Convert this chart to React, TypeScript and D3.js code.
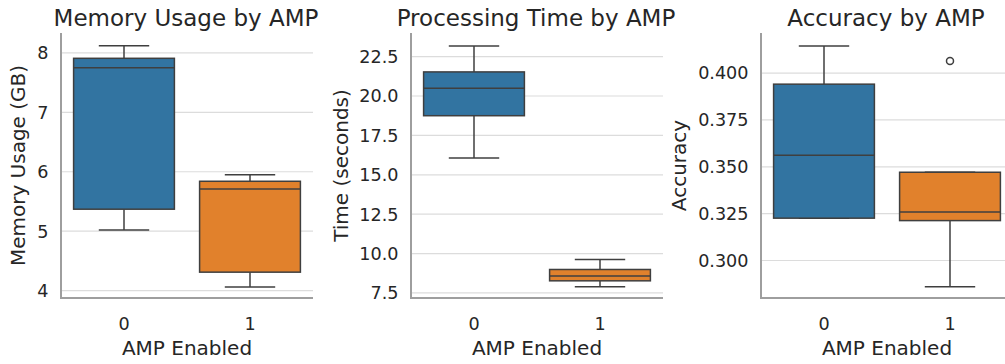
import React from "react";
import * as d3 from "d3";

// categories (AMP enabled flag)
const categories = ["0", "1"];

// box stats per group: [whiskerLow, q1, median, q3, whiskerHigh]
const memoryStats = [
  [5.02, 5.37, 7.75, 7.91, 8.12],
  [4.06, 4.31, 5.71, 5.84, 5.95],
];
const timeStats = [
  [16.07, 18.75, 20.5, 21.53, 23.18],
  [7.89, 8.27, 8.57, 8.99, 9.62],
];
const accuracyStats = [
  [0.3226, 0.3226, 0.3562, 0.3941, 0.4145],
  [0.286, 0.3213, 0.3259, 0.3471, 0.3471],
];
const accuracyOutliers = [[], [0.4065]];

const memoryTicks = [4, 5, 6, 7, 8];
const timeTicks = [7.5, 10, 12.5, 15, 17.5, 20, 22.5];
const accuracyTicks = [0.3, 0.325, 0.35, 0.375, 0.4];

const colors = ["#3274a1", "#e1812c"];
const lineColor = "#3f3f3f";
const textColor = "#262626";
const font = "DejaVu Sans, sans-serif";

const top = 33;
const bottom = 298;
const axisWidth = 252;

const panels = [
  {
    title: "Memory Usage by AMP",
    ylabel: "Memory Usage (GB)",
    left: 61,
    labelX: 24.5,
    domain: [3.875, 8.336],
    stats: memoryStats,
    outliers: [[], []],
    ticks: memoryTicks,
    fmt: (v: number) => d3.format("d")(v),
  },
  {
    title: "Processing Time by AMP",
    ylabel: "Time (seconds)",
    left: 411,
    labelX: 348,
    domain: [7.18, 24.0],
    stats: timeStats,
    outliers: [[], []],
    ticks: timeTicks,
    fmt: (v: number) => d3.format(".1f")(v),
  },
  {
    title: "Accuracy by AMP",
    ylabel: "Accuracy",
    left: 761,
    labelX: 686,
    domain: [0.28, 0.4214],
    stats: accuracyStats,
    outliers: accuracyOutliers,
    ticks: accuracyTicks,
    fmt: (v: number) => d3.format(".3f")(v),
  },
];

const Panel = ({ p }: { p: (typeof panels)[number] }) => {
  const x = d3
    .scaleLinear()
    .domain([-0.5, 1.5])
    .range([p.left, p.left + axisWidth]);
  const y = d3.scaleLinear().domain(p.domain).range([bottom, top]);
  const step = x(1) - x(0);
  const boxW = step * 0.8;
  const capW = boxW / 2;

  return (
    <g>
      {/* grid */}
      {p.ticks.map((t) => (
        <line
          key={"g" + t}
          x1={p.left}
          x2={p.left + axisWidth}
          y1={y(t)}
          y2={y(t)}
          stroke="#dcdcdc"
          strokeWidth={1.2}
        />
      ))}
      {/* boxes */}
      {p.stats.map((s, i) => {
        const cx = x(i);
        const [lo, q1, med, q3, hi] = s;
        return (
          <g key={"b" + i} stroke={lineColor} strokeWidth={1.5}>
            <line x1={cx} x2={cx} y1={y(q3)} y2={y(hi)} />
            <line x1={cx} x2={cx} y1={y(q1)} y2={y(lo)} />
            <line x1={cx - capW / 2} x2={cx + capW / 2} y1={y(hi)} y2={y(hi)} />
            <line x1={cx - capW / 2} x2={cx + capW / 2} y1={y(lo)} y2={y(lo)} />
            <rect
              x={cx - boxW / 2}
              y={y(q3)}
              width={boxW}
              height={y(q1) - y(q3)}
              fill={colors[i]}
            />
            <line x1={cx - boxW / 2} x2={cx + boxW / 2} y1={y(med)} y2={y(med)} />
            {p.outliers[i].map((o, j) => (
              <circle key={j} cx={cx} cy={y(o)} r={3.5} fill="none" />
            ))}
          </g>
        );
      })}
      {/* spines */}
      <line x1={p.left} x2={p.left} y1={top} y2={bottom + 1} stroke="#9e9e9e" strokeWidth={2} />
      <line x1={p.left - 1} x2={p.left + axisWidth} y1={bottom} y2={bottom} stroke="#9e9e9e" strokeWidth={2} />
      {/* y ticks */}
      {p.ticks.map((t) => (
        <text
          key={"t" + t}
          x={p.left - 12.5}
          y={y(t)}
          dy="0.36em"
          textAnchor="end"
          fontSize={17.6}
          fill={textColor}
        >
          {p.fmt(t)}
        </text>
      ))}
      {/* x ticks */}
      {categories.map((c, i) => (
        <text key={"x" + c} x={x(i)} y={330} textAnchor="middle" fontSize={17.6} fill={textColor}>
          {c}
        </text>
      ))}
      <text
        x={p.left + axisWidth / 2}
        y={355}
        textAnchor="middle"
        fontSize={20}
        fill={textColor}
      >
        AMP Enabled
      </text>
      <text
        transform={`translate(${p.labelX},${(top + bottom) / 2}) rotate(-90)`}
        textAnchor="middle"
        fontSize={20}
        fill={textColor}
      >
        {p.ylabel}
      </text>
      <text
        x={p.left + axisWidth / 2 - 1}
        y={26}
        textAnchor="middle"
        fontSize={23}
        fill={textColor}
      >
        {p.title}
      </text>
    </g>
  );
};

const App = () => {
  return (
    <svg
      width={1005}
      height={364}
      style={{ position: "absolute", left: 0, top: 0, background: "#fff" }}
      fontFamily={font}
    >
      {panels.map((p) => (
        <Panel key={p.title} p={p} />
      ))}
    </svg>
  );
};

export default App;
